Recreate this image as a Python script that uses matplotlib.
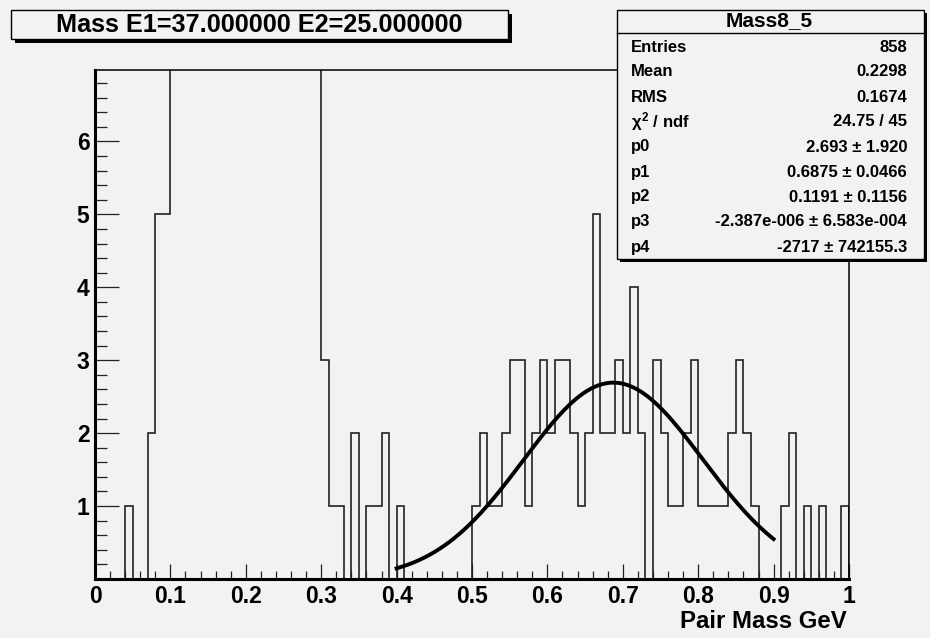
import numpy as np
import matplotlib
import matplotlib.pyplot as plt
from matplotlib.patches import Rectangle
from matplotlib.ticker import MultipleLocator

matplotlib.use("Agg")

plt.rcParams["font.family"] = ["Liberation Sans", "DejaVu Sans"]
plt.rcParams["font.weight"] = "bold"
plt.rcParams["mathtext.fontset"] = "custom"
plt.rcParams["mathtext.rm"] = "Liberation Sans:bold"
plt.rcParams["mathtext.it"] = "Liberation Sans:bold"

W, H = 930, 638
BG = "#f2f2f2"

# 100 bins of 0.01 from 0 to 1
edges = np.linspace(0.0, 1.0, 101)
counts = [
    0, 0, 0, 0, 1, 0, 0, 2, 5, 5,                     # 0.00 - 0.09
    22, 30, 35, 38, 41, 43, 44, 45, 44, 42,           # 0.10 - 0.19 (off scale)
    41, 40, 39, 38, 37, 36, 35, 34, 33, 32,           # 0.20 - 0.29 (off scale)
    3, 1, 1, 0, 2, 0, 1, 1, 2, 0,                     # 0.30 - 0.39
    1, 0, 0, 0, 0, 0, 0, 0, 0, 0,                     # 0.40 - 0.49
    1, 2, 1, 1, 2, 3, 3, 1, 2, 3,                     # 0.50 - 0.59
    2, 3, 3, 2, 1, 2, 5, 2, 2, 3,                     # 0.60 - 0.69
    2, 4, 2, 0, 3, 2, 1, 1, 2, 3,                     # 0.70 - 0.79
    1, 1, 1, 1, 2, 3, 2, 1, 0, 0,                     # 0.80 - 0.89
    0, 1, 2, 0, 1, 0, 1, 0, 0, 1,                     # 0.90 - 0.99
]

# fit: gaus + expo, parameters from the stats box
p0, p1, p2, p3, p4 = 2.693, 0.6875, 0.1191, -2.387e-6, -2717.0
fit_range = (0.4, 0.9)

stat_names = ["Entries", "Mean", "RMS", r"$\chi^{2}$ / ndf", "p0", "p1", "p2", "p3", "p4"]
stat_values = ["858", "0.2298", "0.1674", "24.75 / 45",
               "2.693 \u00b1 1.920", "0.6875 \u00b1 0.0466", "0.1191 \u00b1 0.1156",
               "-2.387e-006 \u00b1 6.583e-004", "-2717 \u00b1 742155.3"]

title = "Mass E1=37.000000 E2=25.000000"
hist_name = "Mass8_5"
xlabel = "Pair Mass GeV"


def fx(px):
    return px / W


def fy(py):
    return 1 - py / H


fig = plt.figure(figsize=(W / 100, H / 100), dpi=100, facecolor=BG)
ax = fig.add_axes([fx(95), fy(579), fx(849) - fx(95), fy(70) - fy(579)])
ax.set_facecolor(BG)

ax.stairs(counts, edges, color="#222222", lw=1.2, baseline=0)

xf = np.linspace(fit_range[0], fit_range[1], 300)
yf = p0 * np.exp(-0.5 * ((xf - p1) / p2) ** 2) + np.exp(p3 + p4 * xf)
ax.plot(xf, yf, color="black", lw=2.8)

ax.set_xlim(0, 1)
ax.set_ylim(0, 6.98)

ax.xaxis.set_minor_locator(MultipleLocator(0.02))
ax.set_xticks(np.arange(0, 1.01, 0.1))
ax.set_xticklabels(["0", "0.1", "0.2", "0.3", "0.4", "0.5", "0.6", "0.7", "0.8", "0.9", "1"])
ax.set_yticks([1, 2, 3, 4, 5, 6])
ax.yaxis.set_minor_locator(MultipleLocator(0.2))

ax.tick_params(axis="x", which="major", direction="in", length=11, width=0.9,
               labelsize=16.5, pad=4.5, color="#222222")
ax.tick_params(axis="x", which="minor", direction="in", length=6, width=0.9, color="#222222")
ax.tick_params(axis="y", which="major", direction="in", length=17, width=0.9,
               labelsize=16.5, pad=4, color="#222222")
ax.tick_params(axis="y", which="minor", direction="in", length=8.5, width=0.9, color="#222222")
for lab in ax.get_xticklabels() + ax.get_yticklabels():
    lab.set_fontweight("bold")

ax.spines["left"].set_linewidth(2.2)
ax.spines["bottom"].set_linewidth(2.2)
ax.spines["top"].set_linewidth(1.1)
ax.spines["right"].set_linewidth(1.1)

fig.text(fx(847), fy(622), xlabel, ha="right", va="center", fontsize=17.3, fontweight="bold")


def box(x0, y0, x1, y1, shadow=4):
    sh = Rectangle((fx(x0 + shadow), fy(y1 + shadow)), fx(x1 - x0), fy(y0) - fy(y1),
                   transform=fig.transFigure, facecolor="black", edgecolor="none", zorder=5)
    bx = Rectangle((fx(x0), fy(y1)), fx(x1 - x0), fy(y0) - fy(y1),
                   transform=fig.transFigure, facecolor=BG, edgecolor="black", lw=1.0, zorder=6)
    fig.add_artist(sh)
    fig.add_artist(bx)


# title box
box(11, 10, 508, 39, shadow=4)
fig.text(fx(259), fy(25), title, ha="center", va="center", fontsize=18.2,
         fontweight="bold", zorder=7)

# stats box
box(617, 10, 924, 259, shadow=3)
fig.add_artist(plt.Line2D([fx(617), fx(924)], [fy(33), fy(33)], transform=fig.transFigure,
                          color="black", lw=1.0, zorder=7))
fig.text(fx(769), fy(21), hist_name, ha="center", va="center", fontsize=15,
         fontweight="bold", zorder=7)
for i, (name, val) in enumerate(zip(stat_names, stat_values)):
    y = 47 + 25 * i
    fig.text(fx(631), fy(y), name, ha="left", va="center", fontsize=12,
             fontweight="bold", zorder=7)
    fig.text(fx(907), fy(y), val, ha="right", va="center", fontsize=12,
             fontweight="bold", zorder=7)

fig.savefig("out.png", dpi=100, facecolor=BG)
